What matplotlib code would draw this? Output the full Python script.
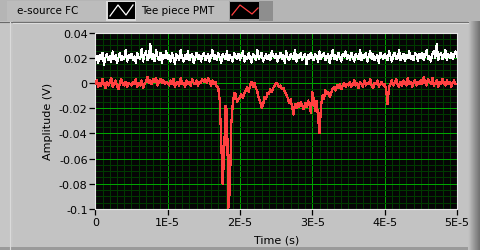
import numpy as np
import matplotlib
matplotlib.use("Agg")
import matplotlib.pyplot as plt
from matplotlib.patches import Rectangle
from matplotlib.ticker import MultipleLocator

# sample spacing of the scope record (s)
dt = 2e-7

# e-source FC trace, mV
white_mv = [
    18, 21, 16, 22, 19, 24, 14, 20, 23, 18, 21, 17, 25, 19, 22, 16, 20, 24, 18, 21, 19, 26, 17, 22, 20,
    23, 18, 21, 16, 24, 20, 19, 27, 17, 22, 25, 18, 20, 31, 19, 23, 17, 26, 21, 18, 24, 16, 22, 20, 25,
    19, 22, 17, 24, 20, 15, 23, 21, 18, 26, 20, 17, 22, 19, 25, 18, 21, 23, 16, 20, 24, 19, 22, 17, 21,
    24, 18, 20, 23, 17, 21, 26, 19, 22, 18, 24, 20, 16, 23, 21, 19, 25, 18, 22, 20, 17, 24, 21, 19, 23,
    18, 22, 25, 17, 21, 19, 24, 20, 16, 23, 22, 18, 26, 19, 21, 24, 17, 20, 23, 19, 22, 18, 25, 21, 20,
    23, 17, 21, 24, 19, 22, 16, 25, 20, 18, 23, 21, 19, 26, 17, 22, 20, 24, 18, 21, 23, 15, 22, 19, 24,
    20, 18, 23, 21, 17, 25, 19, 22, 24, 18, 20, 23, 16, 21, 26, 19, 22, 18, 24, 20, 17, 23, 21, 25, 19,
    22, 18, 24, 20, 17, 23, 21, 19, 26, 18, 22, 20, 24, 17, 21, 25, 19, 23, 18, 20, 22, 16, 24, 21, 19,
    23, 20, 18, 25, 21, 17, 22, 24, 19, 20, 26, 18, 21, 23, 17, 22, 20, 25, 19, 21, 18, 24, 22, 17, 23,
    20, 24, 18, 22, 26, 19, 21, 17, 23, 25, 20, 31, 18, 22, 24, 19, 21, 26, 18, 23, 20, 24, 19, 22, 25,
    21,
]

# Tee piece PMT trace, mV
red_mv = [
    -1, 2, -3, 0, -2, 3, -1, -4, 1, -2, 0, 4, -3, -1, 2, -2, -5, 0, 3, -1, -2, 1, -3, 0, -1,
    -2, 1, -1, 3, -3, 0, -2, 2, -4, -1, 1, 5, 0, 2, -1, 3, 1, 4, -2, 1, 3, 0, 2, -1, 1,
    0, -2, 2, -1, 3, -3, 0, 1, -2, 4, -1, 0, -3, 2, -1, 1, -2, 3, 0, -1, 2, -2, 1, 0, 3,
    1, 3, 0, 4, 1, -2, 2, -1, 1, -3, -4, -14, -45, -80, -58, -18, -22, -99, -85, -32, -17, -8, -9, -15, -13,
    -11, -9, -12, -8, -6, -3, -7, -2, 1, -3, 0, -4, -7, -12, -15, -20, -17, -11, -13, -8, -9, -5, -7, -4, -2,
    0, -1, -3, -2, -5, -4, -7, -9, -12, -16, -13, -19, -25, -17, -20, -16, -19, -15, -18, -21, -16, -19, -14, -17, -24,
    -7, -13, -22, -14, -28, -40, -18, -10, -13, -6, -9, -7, -11, -8, -5, -3, -6, -2, -4, -1, -5, -2, 0, -3, -1,
    -2, 1, -3, -1, 2, -2, 0, -4, 1, -1, -3, 2, -2, 0, -1, 3, -2, -4, 0, -1, 2, -3, -1, 1, -2,
    -1, -5, -17, -3, -1, 2, -2, 0, 3, -1, -3, 1, -2, 2, 0, -2, 4, -1, 1, -3, 0, 2, -2, 1, -1,
    2, -1, 5, 0, -2, 3, 1, -1, 4, -2, 0, 2, -3, 1, -1, 3, 0, -2, 2, -1, 1, -3, 0, 2, -1,
    -1,
]

series_names = ["e-source FC", "Tee piece PMT"]
xticks = [0, 1e-5, 2e-5, 3e-5, 4e-5, 5e-5]
xlabels = ["0", "1E-5", "2E-5", "3E-5", "4E-5", "5E-5"]
yticks = [0.04, 0.02, 0, -0.02, -0.04, -0.06, -0.08, -0.1]
ylabels = ["0.04", "0.02", "0", "-0.02", "-0.04", "-0.06", "-0.08", "-0.1"]

W, H = 481, 251
fig = plt.figure(figsize=(W / 100, H / 100), dpi=100)
fig.patch.set_facecolor("#b5b5b5")

# background / frame drawn in pixel coordinates
bg = fig.add_axes([0, 0, 1, 1], zorder=0)
bg.set_xlim(0, W)
bg.set_ylim(H, 0)
bg.axis("off")

bg.add_patch(Rectangle((0, 22), 13, 229, color="#c6c6c6", lw=0))
bg.add_patch(Rectangle((13, 23), 455, 225, color="#c3c3c3", lw=0))
bg.add_patch(Rectangle((0, 248), 468, 3, color="#9a9a9a", lw=0))
bg.plot([0, 468], [22.5, 22.5], color="#6a6a6a", lw=0.8)
bg.plot([13, 468], [23.6, 23.6], color="#dcdcdc", lw=0.8)
bg.plot([10.5, 10.5], [23, 251], color="#dadada", lw=0.8)
grad = np.linspace(0, 1, 13)[None, :]
bg.imshow(grad, extent=(468, 481, 251, 22), cmap="Greys", vmin=-1.2, vmax=2.2,
          aspect="auto", zorder=1)

# legend strip
bg.add_patch(Rectangle((7, 1.5), 99, 20, color="#bcbcbc", lw=0))
bg.add_patch(Rectangle((136, 1.5), 93, 20, color="#bcbcbc", lw=0))
bg.add_patch(Rectangle((106, 1.5), 30, 20, color="#dcdcdc", lw=0))
bg.add_patch(Rectangle((108, 3), 27, 17, color="black", lw=0))
bg.add_patch(Rectangle((229, 1.5), 44, 20, color="#a2a2a2", lw=0))
bg.add_patch(Rectangle((259, 1.5), 14, 20, color="#8e8e8e", lw=0))
bg.add_patch(Rectangle((230, 3), 29, 17, color="black", lw=0))
bg.plot([110, 118, 126, 133], [17, 6, 16, 6], color="white", lw=0.9)
bg.plot([232, 240, 252, 258], [16, 6, 15, 9], color="#ff4040", lw=0.9)
bg.text(17, 11.5, series_names[0], fontsize=7.5, va="center", ha="left", color="black")
bg.text(141, 11.5, series_names[1], fontsize=7.5, va="center", ha="left", color="black")

# plot area
ax = fig.add_axes([95.3 / W, 1 - 210 / H, 361.7 / W, 176.5 / H], zorder=2)
ax.set_facecolor("#050505")

t_white = np.arange(len(white_mv)) * dt
t_red = np.arange(len(red_mv)) * dt
ax.plot(t_white, np.array(white_mv) * 1e-3, color="white", lw=0.8,
        antialiased=False, zorder=3)
ax.plot(t_red, np.array(red_mv) * 1e-3, color="#ff4040", lw=0.9,
        antialiased=False, zorder=3)

ax.set_xlim(0, 5e-5)
ax.set_ylim(-0.1, 0.04)
ax.set_xticks(xticks)
ax.set_xticklabels(xlabels)
ax.set_yticks(yticks)
ax.set_yticklabels(ylabels)
ax.xaxis.set_minor_locator(MultipleLocator(1e-6))
ax.yaxis.set_minor_locator(MultipleLocator(0.005))
ax.grid(which="major", color="#00a400", lw=0.7, antialiased=False, zorder=1)
ax.grid(which="minor", color="#003a00", lw=0.7, antialiased=False, zorder=0)
ax.set_axisbelow(True)
ax.tick_params(which="major", direction="out", length=4, width=0.9, color="black",
               labelsize=8, pad=1.5, labelcolor="black")
ax.tick_params(which="minor", length=0)
for s in ax.spines.values():
    s.set_color("#e8e8e8")
    s.set_linewidth(0.8)

ax.set_xlabel("Time (s)", fontsize=8)
ax.set_ylabel("Amplitude (V)", fontsize=8)
ax.xaxis.set_label_coords(0.5, -0.17)
ax.xaxis.label.set_va("center")
ax.yaxis.set_label_coords(-0.131, 0.5)
ax.yaxis.label.set_va("center")

fig.savefig("out.png", dpi=100, facecolor=fig.get_facecolor())
